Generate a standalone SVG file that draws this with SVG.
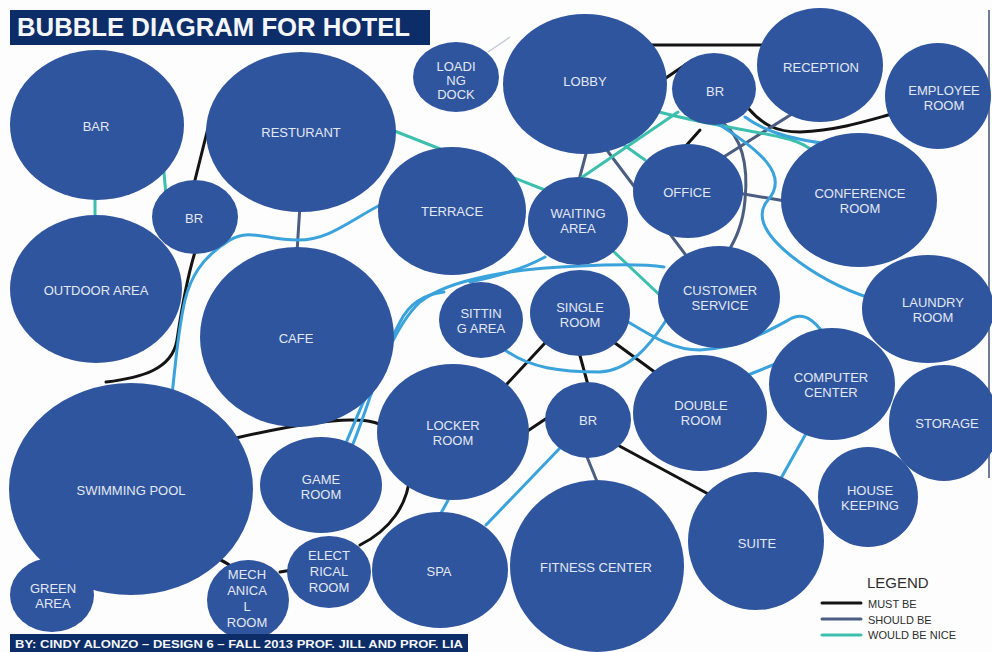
<svg xmlns="http://www.w3.org/2000/svg" width="992" height="652" viewBox="0 0 992 652">
  <defs>
    <style>
      .bub { fill: #2f559f; }
      .lbl { font-family: "Liberation Sans", Arial, sans-serif; font-size: 13px; fill: #e3e8f2; text-anchor: middle; }
      .must { fill: none; stroke: #141414; stroke-width: 3; stroke-linecap: round; }
      .should { fill: none; stroke: #4b5d80; stroke-width: 3; stroke-linecap: round; }
      .nice { fill: none; stroke: #3dbfae; stroke-width: 3; stroke-linecap: round; }
      .nice2 { fill: none; stroke: #3aa3dc; stroke-width: 3; stroke-linecap: round; }
      .band { fill: #0d2d68; }
      .leg { font-family: "Liberation Sans", Arial, sans-serif; fill: #2e2e2e; }
    </style>
  </defs>

  <rect width="992" height="652" fill="#fdfdfd"/>
  <line x1="989" y1="10" x2="989" y2="478" stroke="#3e5078" stroke-width="1.5"/>

  <!-- connectors -->
  <g id="connectors">
    <!-- must be -->
    <path class="must" d="M650,45 L770,45"/>
    <path class="must" d="M660,82 L688,63"/>
    <path class="must" d="M748,108 C762,124 775,132 800,132 C840,130 870,120 892,114"/>
    <path class="must" d="M684,148 L700,130"/>
    <path class="must" d="M210,120 L194,184"/>
    <path class="must" d="M195,252 C185,285 180,320 177,340 C172,370 140,378 106,382"/>
    <path class="must" d="M236,438 C280,428 320,420 350,420 C365,420 372,421 382,425"/>
    <path class="must" d="M410,474 C408,505 390,530 360,545"/>
    <path class="must" d="M280,572 L292,570"/>
    <path class="must" d="M216,558 C224,561 228,564 234,568"/>
    <path class="must" d="M526,432 L550,416"/>
    <path class="must" d="M506,385 L545,343"/>
    <path class="must" d="M579,352 L588,385"/>
    <path class="must" d="M615,343 L656,373"/>
    <path class="must" d="M612,442 L712,496"/>

    <!-- should be -->
    <path class="should" d="M587,150 L579,180"/>
    <path class="should" d="M603,145 L688,258"/>
    <path class="should" d="M738,193 L785,201"/>
    <path class="should" d="M792,114 L722,158"/>
    <path class="should" d="M722,122 C745,140 748,170 745,200 C743,225 735,240 728,252"/>
    <path class="should" d="M300,205 L297,252"/>
    <path class="should" d="M585,452 L598,484"/>

    <!-- would be nice -->
    <path d="M488,52 L510,37" fill="none" stroke="#c4ccd6" stroke-width="1.5"/>
    <path class="nice" d="M392,130 L545,190"/>
    <path class="nice" d="M678,112 L578,180"/>
    <path class="nice" d="M163,162 L166,195"/>
    <path class="nice" d="M95,193 L95,218"/>
    <path class="nice" d="M612,250 L665,300"/>
    <path class="nice" d="M645,108 C690,122 740,128 780,137 C795,140 805,145 812,150"/>
    <path class="nice" d="M617,140 L645,160"/>
    <path class="nice2" d="M384,203 C350,220 330,240 298,240 C265,240 250,228 230,240 C200,258 190,280 185,300 C178,330 176,360 172,395"/>
    <path class="nice2" d="M343,450 C360,410 380,360 400,322 C410,302 425,294 444,292"/>
    <path class="nice2" d="M352,446 C368,410 385,335 420,302 C450,278 520,268 580,266 C620,264 645,264 664,267"/>
    <path class="nice2" d="M470,282 C500,276 525,268 545,257"/>
    <path class="nice2" d="M505,350 C530,368 560,372 600,372 C630,370 650,345 665,322 C670,312 675,305 680,298"/>
    <path class="nice2" d="M625,320 C650,335 672,350 700,350 C740,348 770,330 792,318 C806,312 818,322 833,348"/>
    <path class="nice2" d="M748,375 L785,360"/>
    <path class="nice2" d="M808,430 L780,480"/>
    <path class="nice2" d="M560,448 L486,525"/>
    <path class="nice2" d="M452,493 L440,515"/>
    <path class="nice2" d="M715,122 C760,150 790,175 768,200 C756,214 762,232 790,255 C815,275 845,290 870,298"/>
    <path class="nice2" d="M745,117 C760,128 780,138 835,145"/>
  </g>

  <!-- bubbles -->
  <g id="bar"><ellipse class="bub" cx="97" cy="125" rx="87" ry="75"/><text class="lbl" x="96" y="131">BAR</text></g>
  <g id="resturant"><ellipse class="bub" cx="301" cy="132" rx="95" ry="80"/><text class="lbl" x="301" y="137">RESTURANT</text></g>
  <g id="loading-dock"><ellipse class="bub" cx="456" cy="77" rx="43" ry="35"/>
    <text class="lbl" x="456" y="71">LOADI</text><text class="lbl" x="456" y="85">NG</text><text class="lbl" x="456" y="99">DOCK</text></g>
  <g id="lobby"><ellipse class="bub" cx="585" cy="84" rx="82" ry="70"/><text class="lbl" x="585" y="86">LOBBY</text></g>
  <g id="br-top"><ellipse class="bub" cx="714" cy="89" rx="42" ry="36"/><text class="lbl" x="715" y="96">BR</text></g>
  <g id="reception"><ellipse class="bub" cx="820" cy="65" rx="63" ry="57"/><text class="lbl" x="821" y="72">RECEPTION</text></g>
  <g id="employee-room"><ellipse class="bub" cx="938" cy="96" rx="53" ry="53"/>
    <text class="lbl" x="944" y="95">EMPLOYEE</text><text class="lbl" x="944" y="110">ROOM</text></g>
  <g id="office"><ellipse class="bub" cx="688" cy="191" rx="55" ry="47"/><text class="lbl" x="687" y="197">OFFICE</text></g>
  <g id="conference-room"><ellipse class="bub" cx="859" cy="200" rx="78" ry="67"/>
    <text class="lbl" x="860" y="198">CONFERENCE</text><text class="lbl" x="860" y="213">ROOM</text></g>
  <g id="terrace"><ellipse class="bub" cx="452" cy="211" rx="74" ry="64"/><text class="lbl" x="452" y="216">TERRACE</text></g>
  <g id="waiting-area"><ellipse class="bub" cx="578" cy="221" rx="50" ry="44"/>
    <text class="lbl" x="578" y="218">WAITING</text><text class="lbl" x="578" y="233">AREA</text></g>
  <g id="customer-service"><ellipse class="bub" cx="719" cy="297" rx="61" ry="51"/>
    <text class="lbl" x="720" y="295">CUSTOMER</text><text class="lbl" x="720" y="310">SERVICE</text></g>
  <g id="laundry-room"><ellipse class="bub" cx="928" cy="309" rx="66" ry="54"/>
    <text class="lbl" x="933" y="307">LAUNDRY</text><text class="lbl" x="933" y="322">ROOM</text></g>
  <g id="bar-br"><ellipse class="bub" cx="195" cy="217" rx="43" ry="37"/><text class="lbl" x="194" y="223">BR</text></g>
  <g id="outdoor-area"><ellipse class="bub" cx="96" cy="289" rx="86" ry="74"/><text class="lbl" x="96" y="295">OUTDOOR AREA</text></g>
  <g id="cafe"><ellipse class="bub" cx="297" cy="337" rx="97" ry="90"/><text class="lbl" x="296" y="343">CAFE</text></g>
  <g id="sitting-area"><ellipse class="bub" cx="481" cy="320" rx="42" ry="38"/>
    <text class="lbl" x="481" y="318">SITTIN</text><text class="lbl" x="481" y="333">G AREA</text></g>
  <g id="single-room"><ellipse class="bub" cx="580" cy="313" rx="50" ry="43"/>
    <text class="lbl" x="580" y="312">SINGLE</text><text class="lbl" x="580" y="327">ROOM</text></g>
  <g id="computer-center"><ellipse class="bub" cx="832" cy="384" rx="63" ry="56"/>
    <text class="lbl" x="831" y="382">COMPUTER</text><text class="lbl" x="831" y="397">CENTER</text></g>
  <g id="double-room"><ellipse class="bub" cx="700" cy="413" rx="67" ry="58"/>
    <text class="lbl" x="701" y="410">DOUBLE</text><text class="lbl" x="701" y="425">ROOM</text></g>
  <g id="storage"><ellipse class="bub" cx="944" cy="423" rx="55" ry="58"/><text class="lbl" x="947" y="428">STORAGE</text></g>
  <g id="room-br"><ellipse class="bub" cx="588" cy="420" rx="43" ry="38"/><text class="lbl" x="588" y="425">BR</text></g>
  <g id="locker-room"><ellipse class="bub" cx="453" cy="432" rx="76" ry="68"/>
    <text class="lbl" x="453" y="430">LOCKER</text><text class="lbl" x="453" y="445">ROOM</text></g>
  <g id="swimming-pool"><ellipse class="bub" cx="131" cy="489" rx="122" ry="106"/><text class="lbl" x="131" y="495">SWIMMING POOL</text></g>
  <g id="game-room"><ellipse class="bub" cx="321" cy="485" rx="61" ry="48"/>
    <text class="lbl" x="321" y="484">GAME</text><text class="lbl" x="321" y="499">ROOM</text></g>
  <g id="house-keeping"><ellipse class="bub" cx="868" cy="497" rx="50" ry="50"/>
    <text class="lbl" x="870" y="495">HOUSE</text><text class="lbl" x="870" y="510">KEEPING</text></g>
  <g id="suite"><ellipse class="bub" cx="756" cy="541" rx="68" ry="69"/><text class="lbl" x="757" y="548">SUITE</text></g>
  <g id="fitness-center"><ellipse class="bub" cx="597" cy="566" rx="87" ry="86"/><text class="lbl" x="596" y="572">FITNESS CENTER</text></g>
  <g id="spa"><ellipse class="bub" cx="440" cy="570" rx="68" ry="58"/><text class="lbl" x="439" y="576">SPA</text></g>
  <g id="electrical-room"><ellipse class="bub" cx="329" cy="572" rx="42" ry="36"/>
    <text class="lbl" x="329" y="560">ELECT</text><text class="lbl" x="329" y="576">RICAL</text><text class="lbl" x="329" y="592">ROOM</text></g>
  <g id="mechanical-room"><ellipse class="bub" cx="248" cy="600" rx="41" ry="40"/>
    <text class="lbl" x="247" y="579">MECH</text><text class="lbl" x="247" y="595">ANICA</text><text class="lbl" x="247" y="611">L</text><text class="lbl" x="247" y="627">ROOM</text></g>
  <g id="green-area"><ellipse class="bub" cx="52" cy="595" rx="42" ry="37"/>
    <text class="lbl" x="53" y="593">GREEN</text><text class="lbl" x="53" y="608">AREA</text></g>

  <!-- title and credit bands -->
  <g id="title">
    <rect class="band" x="10" y="10" width="420" height="35"/>
    <text x="17" y="36" font-family="Liberation Sans, Arial, sans-serif" font-weight="bold" font-size="25" fill="#f4f6fa" textLength="393" lengthAdjust="spacingAndGlyphs">BUBBLE DIAGRAM FOR HOTEL</text>
  </g>
  <g id="credit">
    <rect class="band" x="10" y="634" width="458" height="18"/>
    <text x="15" y="648" font-family="Liberation Sans, Arial, sans-serif" font-weight="bold" font-size="11" fill="#f4f6fa" textLength="448" lengthAdjust="spacingAndGlyphs">BY: CINDY ALONZO – DESIGN 6 – FALL 2013 PROF. JILL AND PROF. LIA</text>
  </g>

  <!-- legend -->
  <g id="legend">
    <text class="leg" x="867" y="588" font-size="15">LEGEND</text>
    <line class="must" x1="822" y1="603" x2="861" y2="603" stroke-linecap="butt"/>
    <line class="should" x1="822" y1="619" x2="861" y2="619" stroke-linecap="butt"/>
    <line class="nice" x1="822" y1="635" x2="861" y2="635" stroke-linecap="butt"/>
    <text class="leg" x="868" y="608" font-size="11">MUST BE</text>
    <text class="leg" x="868" y="624" font-size="11">SHOULD BE</text>
    <text class="leg" x="868" y="639" font-size="11">WOULD BE NICE</text>
  </g>
</svg>
